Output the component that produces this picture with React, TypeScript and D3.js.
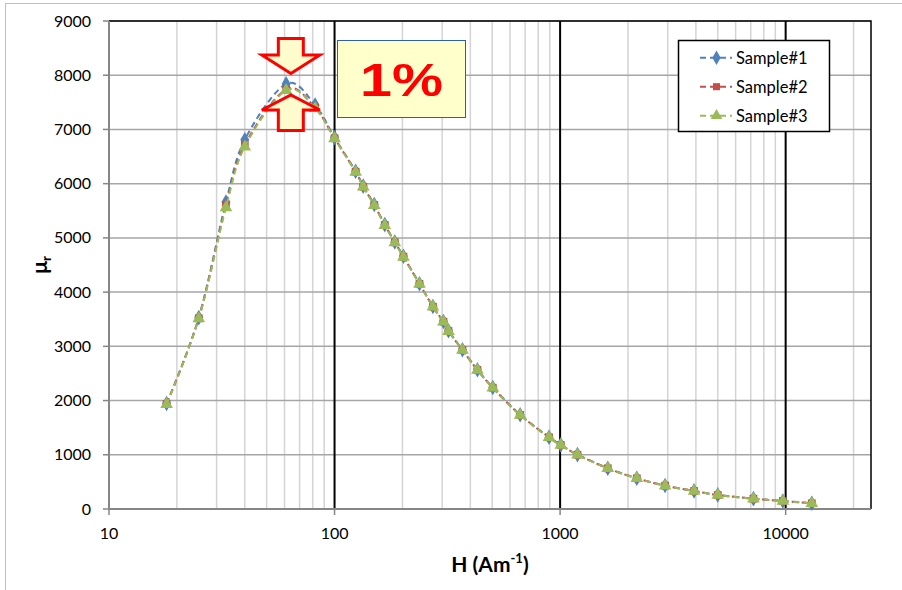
import React, { useEffect, useRef } from "react";
import * as d3 from "d3";

// magnetic field H (A/m) and relative permeability for the three samples
const fieldH = [
  18, 25, 33, 40, 61, 82, 100, 124, 134, 150, 167, 185, 202, 238, 273, 304,
  320, 369, 430, 503, 665, 893, 1007, 1194, 1627, 2188, 2921, 3927, 5000,
  7200, 9720, 13060,
];
const sample1 = [
  1945, 3530, 5660, 6810, 7840, 7450, 6850, 6230, 5955, 5615, 5245, 4925,
  4660, 4155, 3735, 3458, 3288, 2937, 2567, 2240, 1737, 1325, 1183, 1003, 752,
  568, 432, 334, 260, 191, 149, 106,
];
const sample2 = [
  1936, 3517, 5600, 6713, 7740, 7400, 6837, 6221, 5944, 5607, 5238, 4919,
  4653, 4150, 3731, 3454, 3283, 2933, 2564, 2237, 1734, 1322, 1180, 1000, 750,
  566, 430, 332, 258, 190, 148, 105,
];
const sample3 = [
  1930, 3510, 5560, 6680, 7720, 7390, 6830, 6215, 5940, 5600, 5232, 4914,
  4648, 4146, 3727, 3450, 3279, 2930, 2561, 2234, 1731, 1320, 1178, 998, 748,
  564, 429, 331, 257, 189, 147, 104,
];
const seriesNames = ["Sample#1", "Sample#2", "Sample#3"];
const seriesColors = ["#4f81bd", "#c0504d", "#9bbb59"];
const yTicks = [0, 1000, 2000, 3000, 4000, 5000, 6000, 7000, 8000, 9000];
const xTicks = [10, 100, 1000, 10000];

const FONT = "Lato, 'Open Sans', 'DejaVu Sans', sans-serif";

const App = () => {
  const ref = useRef<SVGSVGElement | null>(null);

  useEffect(() => {
    const svg = d3.select(ref.current);
    svg.selectAll("*").remove();

    const left = 109;
    const right = 871;
    const top = 21;
    const bottom = 509;

    const x = d3.scaleLog().domain([10, 23900]).range([left, right]);
    const y = d3.scaleLinear().domain([0, 9000]).range([bottom, top]);

    // outer chart frame
    svg
      .append("rect")
      .attr("x", 5.5)
      .attr("y", 3.5)
      .attr("width", 1000)
      .attr("height", 700)
      .attr("fill", "white")
      .attr("stroke", "#bfbfbf");

    // minor vertical grid
    const minor: number[] = [];
    [10, 100, 1000, 10000].forEach((d) => {
      for (let k = 2; k <= 9; k++) if (k * d <= 23900) minor.push(k * d);
    });
    svg
      .append("g")
      .selectAll("line")
      .data(minor)
      .join("line")
      .attr("x1", (d) => x(d))
      .attr("x2", (d) => x(d))
      .attr("y1", top)
      .attr("y2", bottom)
      .attr("stroke", "#d4d4d4")
      .attr("stroke-width", 1.5);

    // horizontal grid
    svg
      .append("g")
      .selectAll("line")
      .data(yTicks.slice(1))
      .join("line")
      .attr("x1", left)
      .attr("x2", right)
      .attr("y1", (d) => y(d))
      .attr("y2", (d) => y(d))
      .attr("stroke", "#a6a6a6")
      .attr("stroke-width", 1.5);

    // major vertical grid (decades)
    svg
      .append("g")
      .selectAll("line")
      .data(xTicks.slice(1))
      .join("line")
      .attr("x1", (d) => x(d))
      .attr("x2", (d) => x(d))
      .attr("y1", top)
      .attr("y2", bottom)
      .attr("stroke", "#000")
      .attr("stroke-width", 2);

    // plot border top / right
    svg
      .append("path")
      .attr("d", `M${left},${top}H${right}V${bottom}`)
      .attr("fill", "none")
      .attr("stroke", "#000")
      .attr("stroke-width", 1.5);

    // axes
    svg
      .append("line")
      .attr("x1", left)
      .attr("x2", left)
      .attr("y1", top)
      .attr("y2", bottom)
      .attr("stroke", "#868686")
      .attr("stroke-width", 2);
    svg
      .append("line")
      .attr("x1", left)
      .attr("x2", right)
      .attr("y1", bottom)
      .attr("y2", bottom)
      .attr("stroke", "#868686")
      .attr("stroke-width", 2);

    // y ticks and labels
    svg
      .append("g")
      .selectAll("line")
      .data(yTicks)
      .join("line")
      .attr("x1", left - 6)
      .attr("x2", left)
      .attr("y1", (d) => y(d))
      .attr("y2", (d) => y(d))
      .attr("stroke", "#868686")
      .attr("stroke-width", 1.5);
    svg
      .append("g")
      .selectAll("text")
      .data(yTicks)
      .join("text")
      .attr("x", 91)
      .attr("y", (d) => y(d) + 5.5)
      .attr("text-anchor", "end")
      .style("font-family", FONT)
      .style("font-size", "16px")
      .attr("fill", "#000")
      .text((d) => d);

    // x ticks and labels
    svg
      .append("g")
      .selectAll("line")
      .data(xTicks)
      .join("line")
      .attr("x1", (d) => x(d))
      .attr("x2", (d) => x(d))
      .attr("y1", bottom)
      .attr("y2", bottom + 6)
      .attr("stroke", "#868686")
      .attr("stroke-width", 1.5);
    svg
      .append("g")
      .selectAll("text")
      .data(xTicks)
      .join("text")
      .attr("x", (d) => x(d))
      .attr("y", 539)
      .attr("text-anchor", "middle")
      .style("font-family", FONT)
      .style("font-size", "16px")
      .attr("fill", "#000")
      .text((d) => d);

    // axis titles
    const xt = svg
      .append("text")
      .attr("x", (left + right) / 2)
      .attr("y", 572)
      .attr("text-anchor", "middle")
      .style("font-family", FONT)
      .style("font-size", "21px")
      .style("font-weight", "bold");
    xt.append("tspan").text("H (Am");
    xt.append("tspan").attr("dy", -9).style("font-size", "13px").text("-1");
    xt.append("tspan").attr("dy", 9).text(")");

    const yt = svg
      .append("text")
      .attr("transform", `translate(47,${(top + bottom) / 2}) rotate(-90)`)
      .attr("text-anchor", "middle")
      .style("font-family", FONT)
      .style("font-size", "21px")
      .style("font-weight", "bold");
    yt.append("tspan").text("μ");
    yt.append("tspan").attr("dy", 4).style("font-size", "13px").text("r");

    // series (Excel-style smoothed dashed lines)
    const allSeries = [sample1, sample2, sample3];
    const line = d3
      .line<number>()
      .x((d, i) => x(fieldH[i]))
      .y((d) => y(d))
      .curve(d3.curveCardinal.tension(0));

    const symbols = [d3.symbolDiamond, d3.symbolSquare, d3.symbolTriangle];
    const symbolSizes = [70, 60, 70];

    allSeries.forEach((vals, s) => {
      svg
        .append("path")
        .datum(vals)
        .attr("d", line)
        .attr("fill", "none")
        .attr("stroke", seriesColors[s])
        .attr("stroke-width", 2)
        .attr("stroke-dasharray", "6,4");

      svg
        .append("g")
        .selectAll("path")
        .data(vals)
        .join("path")
        .attr("transform", (d, i) => `translate(${x(fieldH[i])},${y(d)})`)
        .attr("d", d3.symbol().type(symbols[s]).size(symbolSizes[s])())
        .attr("fill", seriesColors[s]);
    });

    // legend
    const lg = svg.append("g");
    lg.append("rect")
      .attr("x", 678.5)
      .attr("y", 40.5)
      .attr("width", 151)
      .attr("height", 91)
      .attr("fill", "white")
      .attr("stroke", "#000")
      .attr("stroke-width", 1.5);
    seriesNames.forEach((name, i) => {
      const cy = 57.7 + i * 29;
      lg.append("line")
        .attr("x1", 700)
        .attr("x2", 732)
        .attr("y1", cy)
        .attr("y2", cy)
        .attr("stroke", seriesColors[i])
        .attr("stroke-width", 2)
        .attr("stroke-dasharray", "6,4");
      lg.append("path")
        .attr("transform", `translate(716.5,${cy})`)
        .attr("d", d3.symbol().type(symbols[i]).size(symbolSizes[i] - 10)())
        .attr("fill", seriesColors[i]);
      lg.append("text")
        .attr("x", 736)
        .attr("y", cy + 6)
        .style("font-family", FONT)
        .style("font-size", "16.5px")
        .attr("fill", "#000")
        .text(name);
    });

    // 1% annotation: arrows around the peak
    const ax = x(64);
    const downTip = 73.5;
    const upTip = 95;
    const arrowFill = "#fefccc";
    svg
      .append("path")
      .attr(
        "d",
        `M${ax - 12.5},38.5H${ax + 12.5}V55H${ax + 29}L${ax},${downTip}L${ax - 29},55H${ax - 12.5}Z`
      )
      .attr("fill", arrowFill)
      .attr("stroke", "#ff0000")
      .attr("stroke-width", 3);
    svg
      .append("path")
      .attr(
        "d",
        `M${ax - 12.5},130.5H${ax + 12.5}V110H${ax + 29}L${ax},${upTip}L${ax - 29},110H${ax - 12.5}Z`
      )
      .attr("fill", arrowFill)
      .attr("stroke", "#ff0000")
      .attr("stroke-width", 3);

    svg
      .append("rect")
      .attr("x", 337.5)
      .attr("y", 40.5)
      .attr("width", 128)
      .attr("height", 77)
      .attr("fill", "#ffffcc")
      .attr("stroke", "#2e5fa8")
      .attr("stroke-width", 1);
    svg
      .append("text")
      .attr("x", 360)
      .attr("y", 96)
      .attr("textLength", 83)
      .attr("lengthAdjust", "spacingAndGlyphs")
      .style("font-family", "'Liberation Sans', Arial, sans-serif")
      .style("font-size", "47px")
      .style("font-weight", "bold")
      .attr("fill", "#ff0000")
      .text("1%");
  }, []);

  return (
    <div style={{ position: "absolute", left: 0, top: 0 }}>
      <svg ref={ref} width={902} height={590} style={{ display: "block" }} />
    </div>
  );
};

export default App;
